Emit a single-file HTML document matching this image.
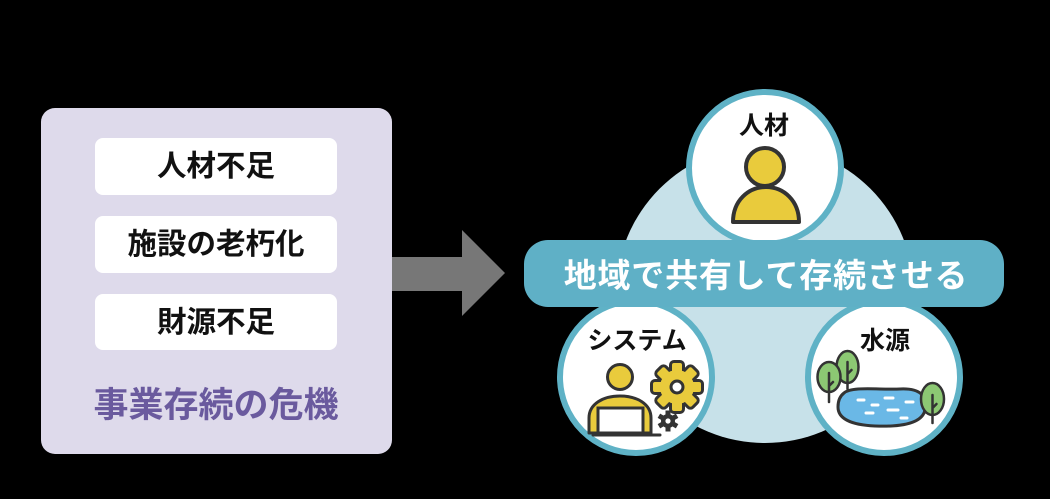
<!DOCTYPE html>
<html><head><meta charset="utf-8"><style>
html,body{margin:0;padding:0;background:#000;}
svg{display:block;}
text{font-family:"Liberation Sans","Noto Sans CJK JP",sans-serif;font-weight:700;}
</style></head><body>
<svg width="1050" height="499" viewBox="0 0 1050 499" xmlns="http://www.w3.org/2000/svg">
<rect x="0" y="0" width="1050" height="499" fill="#000"/>
<!-- left box -->
<rect x="41" y="108" width="351" height="346" rx="14" fill="#dedaeb"/>
<rect x="95" y="138" width="242" height="57" rx="8" fill="#fff"/>
<rect x="95" y="216" width="242" height="57" rx="8" fill="#fff"/>
<rect x="95" y="294" width="242" height="56" rx="8" fill="#fff"/>
<text x="216" y="176" font-size="29.5" text-anchor="middle" fill="#111">人材不足</text>
<text x="216" y="254" font-size="29.5" text-anchor="middle" fill="#111">施設の老朽化</text>
<text x="216" y="332" font-size="29.5" text-anchor="middle" fill="#111">財源不足</text>
<text x="216" y="417" font-size="35" text-anchor="middle" fill="#6a5a9e">事業存続の危機</text>
<!-- arrow -->
<polygon points="392,257 462,257 462,230 505,273 462,316 462,291 392,291" fill="#777"/>
<!-- pale circle -->
<circle cx="765" cy="294" r="149" fill="#c7e1e9"/>
<!-- top circle -->
<circle cx="765" cy="168" r="76" fill="#fff" stroke="#5fb2c6" stroke-width="6"/>
<text x="764" y="134" font-size="25" text-anchor="middle" fill="#111">人材</text>
<circle cx="765" cy="167" r="19" fill="#e9cb3c" stroke="#333" stroke-width="4"/>
<path d="M733,222 C733,201 748,187 766,187 C784,187 799,201 799,222 Z" fill="#e9cb3c" stroke="#333" stroke-width="4" stroke-linejoin="round"/>
<!-- system circle -->
<circle cx="636" cy="377" r="76" fill="#fff" stroke="#5fb2c6" stroke-width="6"/>
<text x="637" y="349" font-size="25" text-anchor="middle" fill="#111">システム</text>
<circle cx="620" cy="377" r="12.5" fill="#e9cb3c" stroke="#333" stroke-width="3"/>
<path d="M589,433 L589,418 C589,404 603,396 620,396 C637,396 651,404 651,418 L651,433 Z" fill="#e9cb3c" stroke="#333" stroke-width="3" stroke-linejoin="round"/>
<rect x="598" y="408" width="45" height="25" fill="#fff" stroke="#333" stroke-width="3"/>
<line x1="593" y1="435" x2="660" y2="435" stroke="#333" stroke-width="3" stroke-linecap="round"/>
<!-- big gear -->
<g transform="translate(677,387)">
  <g stroke="#333" stroke-width="6" stroke-linejoin="round" fill="#333">
    <circle r="17"/>
    <rect x="-5" y="-24" width="10" height="12" rx="2"/>
    <rect x="-5" y="-24" width="10" height="12" rx="2" transform="rotate(45)"/>
    <rect x="-5" y="-24" width="10" height="12" rx="2" transform="rotate(90)"/>
    <rect x="-5" y="-24" width="10" height="12" rx="2" transform="rotate(135)"/>
    <rect x="-5" y="-24" width="10" height="12" rx="2" transform="rotate(180)"/>
    <rect x="-5" y="-24" width="10" height="12" rx="2" transform="rotate(225)"/>
    <rect x="-5" y="-24" width="10" height="12" rx="2" transform="rotate(270)"/>
    <rect x="-5" y="-24" width="10" height="12" rx="2" transform="rotate(315)"/>
  </g>
  <g fill="#e9cb3c">
    <circle r="17"/>
    <rect x="-5" y="-24" width="10" height="12" rx="2"/>
    <rect x="-5" y="-24" width="10" height="12" rx="2" transform="rotate(45)"/>
    <rect x="-5" y="-24" width="10" height="12" rx="2" transform="rotate(90)"/>
    <rect x="-5" y="-24" width="10" height="12" rx="2" transform="rotate(135)"/>
    <rect x="-5" y="-24" width="10" height="12" rx="2" transform="rotate(180)"/>
    <rect x="-5" y="-24" width="10" height="12" rx="2" transform="rotate(225)"/>
    <rect x="-5" y="-24" width="10" height="12" rx="2" transform="rotate(270)"/>
    <rect x="-5" y="-24" width="10" height="12" rx="2" transform="rotate(315)"/>
  </g>
  <circle r="6" fill="#fff" stroke="#333" stroke-width="3"/>
</g>
<!-- small gear -->
<g transform="translate(668,421)" fill="#333">
  <circle r="7"/>
  <rect x="-2.5" y="-10.5" width="5" height="6"/>
  <rect x="-2.5" y="-10.5" width="5" height="6" transform="rotate(60)"/>
  <rect x="-2.5" y="-10.5" width="5" height="6" transform="rotate(120)"/>
  <rect x="-2.5" y="-10.5" width="5" height="6" transform="rotate(180)"/>
  <rect x="-2.5" y="-10.5" width="5" height="6" transform="rotate(240)"/>
  <rect x="-2.5" y="-10.5" width="5" height="6" transform="rotate(300)"/>
  <circle r="2.6" fill="#fff"/>
</g>
<!-- water circle -->
<circle cx="884" cy="377" r="76" fill="#fff" stroke="#5fb2c6" stroke-width="6"/>
<text x="885" y="349" font-size="25" text-anchor="middle" fill="#111">水源</text>
<!-- trees back -->
<ellipse cx="847.5" cy="367" rx="11" ry="16" fill="#8cc873" stroke="#333" stroke-width="2.5"/>
<path d="M847.5,362 L847.5,389 M847.5,374 L851.5,370" stroke="#333" stroke-width="2.5" fill="none" stroke-linecap="round"/>
<ellipse cx="829" cy="377" rx="11.5" ry="15" fill="#8cc873" stroke="#333" stroke-width="2.5"/>
<path d="M829,373 L829,402 M829,386 L833,382" stroke="#333" stroke-width="2.5" fill="none" stroke-linecap="round"/>
<!-- pond -->
<path d="M844,393 C852,386 880,390 900,389 C920,388 928,396 925,410 C922,424 900,427 875,426 C852,425 838,419 838,407 C838,400 840,396 844,393 Z" fill="#6ab8e6" stroke="#333" stroke-width="3"/>
<g stroke="#fff" stroke-width="3" stroke-linecap="round">
  <line x1="858" y1="400" x2="864" y2="400"/>
  <line x1="885" y1="398" x2="893" y2="398"/>
  <line x1="872" y1="405" x2="878" y2="405"/>
  <line x1="906" y1="402" x2="913" y2="402"/>
  <line x1="866" y1="413" x2="873" y2="413"/>
  <line x1="888" y1="410" x2="898" y2="410"/>
  <line x1="901" y1="418" x2="907" y2="418"/>
</g>
<!-- tree right -->
<ellipse cx="932.5" cy="399" rx="11.5" ry="16" fill="#8cc873" stroke="#333" stroke-width="2.5"/>
<path d="M932.5,395 L932.5,423 M932.5,408 L936.5,404" stroke="#333" stroke-width="2.5" fill="none" stroke-linecap="round"/>
<!-- pill -->
<rect x="524" y="240" width="480" height="67" rx="24" fill="#5fb0c6"/>
<text x="766" y="287" font-size="33" text-anchor="middle" fill="#fff" letter-spacing="0.8">地域で共有して存続させる</text>
</svg>
</body></html>
